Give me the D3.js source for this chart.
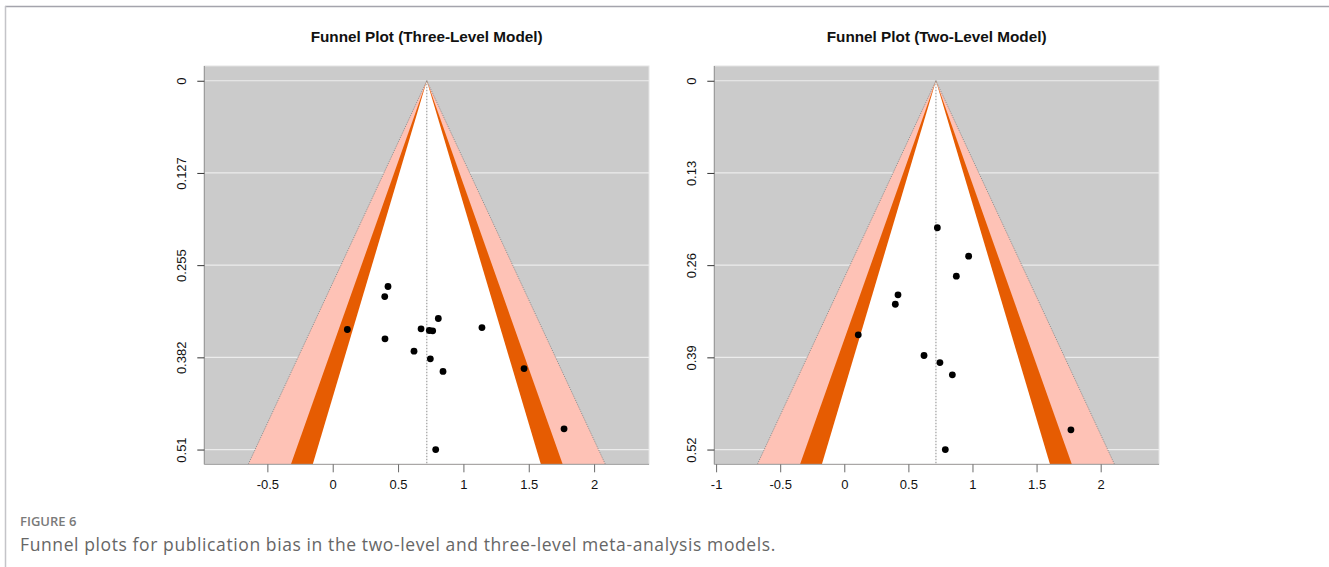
<!DOCTYPE html>
<html>
<head>
<meta charset="utf-8">
<script src="https://cdn.jsdelivr.net/npm/d3@7"></script>
<style>
  html, body { margin: 0; padding: 0; background: #ffffff; }
  svg { display: block; }
</style>
</head>
<body>
<script>
// ---- data -------------------------------------------------------------
const panelTitles = ["Funnel Plot (Three-Level Model)", "Funnel Plot (Two-Level Model)"];

// pooled estimates (vertical reference line / funnel apex)
const pooledEstimates = [0.72, 0.715];

// largest standard error per model (sets the y axis span)
const maxSE = [0.51, 0.52];

// y axis ticks (standard error) and their printed labels
const yTicksThree = [0, 0.1275, 0.255, 0.3825, 0.51];
const yLabelsThree = ["0", "0.127", "0.255", "0.382", "0.51"];
const yTicksTwo = [0, 0.13, 0.26, 0.39, 0.52];
const yLabelsTwo = ["0", "0.13", "0.26", "0.39", "0.52"];

// x axis ticks (effect size)
const xTicksThree = [-0.5, 0, 0.5, 1, 1.5, 2];
const xTicksTwo = [-1, -0.5, 0, 0.5, 1, 1.5, 2];

// effect size and standard error of each observed estimate
const effectsThree = [0.423, 0.398, 0.808, 0.112, 0.676, 0.739, 0.765, 1.142, 0.400, 0.622, 0.747, 0.844, 1.464, 1.770, 0.788];
const seThree      = [0.2845, 0.2984, 0.3288, 0.344, 0.343, 0.3454, 0.3458, 0.3413, 0.3569, 0.374, 0.3846, 0.402, 0.398, 0.4814, 0.51];

const effectsTwo = [0.726, 0.970, 0.874, 0.419, 0.398, 0.109, 0.622, 0.746, 0.843, 1.768, 0.788];
const seTwo      = [0.2073, 0.2473, 0.2756, 0.3018, 0.3151, 0.3582, 0.3874, 0.3973, 0.4147, 0.4922, 0.52];

// contour levels (90%, 95%, 99%) as normal quantiles
const contourLevels = [0.90, 0.95, 0.99];
const contourZ = [1.645, 1.96, 2.576];

const captionLabel = "FIGURE 6";
const captionText = "Funnel plots for publication bias in the two-level and three-level meta-analysis models.";

// ---- drawing ----------------------------------------------------------
const W = 1329, H = 567;
const svg = d3.select("body").append("svg").attr("width", W).attr("height", H);

// card frame (top and left rules)
svg.append("line").attr("x1", 5).attr("x2", W).attr("y1", 6.5).attr("y2", 6.5)
  .attr("stroke", "#a4a4ac").attr("stroke-width", 1.5);
svg.append("line").attr("x1", 5.5).attr("x2", 5.5).attr("y1", 6).attr("y2", H)
  .attr("stroke", "#c4c4c8").attr("stroke-width", 1.5);

const RFONT = "'Liberation Sans', Arial, Helvetica, sans-serif";
const fillColors = ["#fec2b6", "#e65c02", "#ffffff"]; // 99%, 95%, 90% bands

function drawPanel(cfg) {
  const g = svg.append("g");
  const seTop = cfg.maxSE;
  const pad = seTop * 0.04;
  const y = d3.scaleLinear().domain([-pad, seTop + pad]).range([cfg.top, cfg.bottom]);
  const x = d3.scaleLinear().domain(cfg.xDomain).range([cfg.left, cfg.right]);
  const seBottom = y.domain()[1];
  const est = cfg.estimate;

  const clipId = "clip" + cfg.id;
  g.append("clipPath").attr("id", clipId).append("rect")
    .attr("x", cfg.left).attr("y", cfg.top)
    .attr("width", cfg.right - cfg.left).attr("height", cfg.bottom - cfg.top);

  // plot background
  g.append("rect").attr("x", cfg.left).attr("y", cfg.top)
    .attr("width", cfg.right - cfg.left).attr("height", cfg.bottom - cfg.top)
    .attr("fill", "#cbcbcb").attr("stroke", "#e4e4e4").attr("stroke-width", 1);

  // horizontal guide lines at the y ticks
  g.append("g").selectAll("line").data(cfg.yTicks).join("line")
    .attr("x1", cfg.left).attr("x2", cfg.right)
    .attr("y1", d => y(d)).attr("y2", d => y(d))
    .attr("stroke", "#ececec").attr("stroke-width", 1.2);

  // contour-enhanced funnel: widest band first
  const bands = g.append("g").attr("clip-path", `url(#${clipId})`);
  const zs = cfg.z.slice().sort((a, b) => b - a);
  zs.forEach((z, i) => {
    const pts = [[est - z * seBottom, seBottom], [est, 0], [est + z * seBottom, seBottom]];
    bands.append("path")
      .attr("d", d3.line().x(d => x(d[0])).y(d => y(d[1]))(pts) + "Z")
      .attr("fill", fillColors[i]);
  });
  // dotted outline of the outer contour
  const outer = [[est - zs[0] * seBottom, seBottom], [est, 0], [est + zs[0] * seBottom, seBottom]];
  bands.append("path")
    .attr("d", d3.line().x(d => x(d[0])).y(d => y(d[1]))(outer))
    .attr("fill", "none").attr("stroke", "#8a8a8a").attr("stroke-width", 0.9)
    .attr("stroke-dasharray", "1.2,1.2");

  // reference line at the pooled estimate
  g.append("line").attr("x1", x(est)).attr("x2", x(est))
    .attr("y1", y(0)).attr("y2", cfg.bottom)
    .attr("stroke", "#6e6e6e").attr("stroke-width", 0.8).attr("stroke-dasharray", "1.5,1.5");

  // observed estimates
  g.append("g").selectAll("circle").data(cfg.effects.map((e, i) => [e, cfg.se[i]])).join("circle")
    .attr("cx", d => x(d[0])).attr("cy", d => y(d[1])).attr("r", 3.4).attr("fill", "#000");

  // axes
  const yAxis = d3.axisLeft(y).tickValues(cfg.yTicks).tickFormat((d, i) => cfg.yLabels[i])
    .tickSize(7).tickPadding(0);
  const ya = g.append("g").attr("transform", `translate(${cfg.left},0)`).call(yAxis);
  ya.select(".domain").attr("stroke", "#8c8c8c").attr("d", `M0,${cfg.top}V${cfg.bottom}`);
  ya.selectAll(".tick line").attr("stroke", "#333");
  ya.selectAll(".tick text")
    .attr("font-family", RFONT).attr("font-size", 13).attr("fill", "#111")
    .attr("text-anchor", "middle").attr("dy", null).attr("x", null)
    .attr("transform", "translate(-22.5,0) rotate(-90)")
    .attr("y", 0).attr("dy", "0.35em");

  const xAxis = d3.axisBottom(x).tickValues(cfg.xTicks).tickFormat(d3.format("")).tickSize(8).tickPadding(7);
  const xa = g.append("g").attr("transform", `translate(0,${cfg.bottom})`).call(xAxis);
  xa.select(".domain").attr("stroke", "#9a9a9a").attr("d", `M${cfg.left},0H${cfg.right}`);
  xa.selectAll(".tick line").attr("stroke", "#6a6a6a");
  xa.selectAll(".tick text").attr("font-family", RFONT).attr("font-size", 13).attr("fill", "#111")
    .text(d => d < 0 ? "-" + Math.abs(d) : String(d));

  // title
  g.append("text").attr("x", (cfg.left + cfg.right) / 2).attr("y", 42)
    .attr("text-anchor", "middle").attr("font-family", RFONT)
    .attr("font-weight", "bold").attr("font-size", 15.3).attr("fill", "#111")
    .text(cfg.title);
}

drawPanel({
  id: "a", title: panelTitles[0], estimate: pooledEstimates[0], maxSE: maxSE[0],
  yTicks: yTicksThree, yLabels: yLabelsThree, xTicks: xTicksThree,
  effects: effectsThree, se: seThree, z: contourZ,
  left: 204.3, right: 649, top: 66, bottom: 464.3, xDomain: [-0.9825, 2.42]
});
drawPanel({
  id: "b", title: panelTitles[1], estimate: pooledEstimates[1], maxSE: maxSE[1],
  yTicks: yTicksTwo, yLabels: yLabelsTwo, xTicks: xTicksTwo,
  effects: effectsTwo, se: seTwo, z: contourZ,
  left: 714.3, right: 1159, top: 66, bottom: 464.3, xDomain: [-1.014, 2.455]
});

// caption
svg.append("text").attr("x", 20).attr("y", 526)
  .attr("font-family", "'Open Sans', sans-serif").attr("font-weight", 600)
  .attr("font-size", 13).attr("fill", "#7a7a7a").text(captionLabel);
svg.append("text").attr("x", 20).attr("y", 551)
  .attr("font-family", "'Open Sans', sans-serif").attr("font-weight", 400)
  .attr("font-size", 17.5).attr("letter-spacing", 0.6).attr("fill", "#666666").text(captionText);
</script>
</body>
</html>
